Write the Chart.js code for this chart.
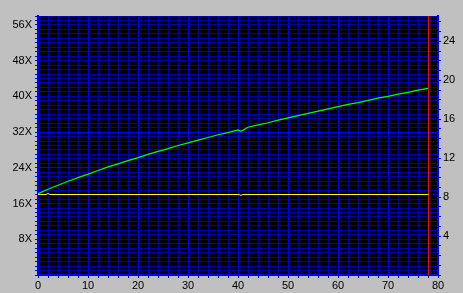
<!DOCTYPE html>
<html>
<head>
<meta charset="utf-8">
<script src="https://cdn.jsdelivr.net/npm/chart.js@4/dist/chart.umd.min.js"></script>
<style>
  html, body { margin: 0; padding: 0; background: #c0c0c0; }
  #wrap { width: 463px; height: 293px; }
</style>
</head>
<body>
<div id="wrap"><canvas id="speedChart" width="463" height="293"></canvas></div>
<script>
// transfer rate (X), per minute position
const minutes = [0, 2, 4, 6, 8, 10, 12, 14, 16, 18, 20, 22, 24, 26, 28, 30, 32, 34, 36, 38,
  40, 40.6, 42, 44, 46, 48, 50, 52, 54, 56, 58, 60, 62, 64, 66, 68, 70, 72, 74, 76, 78];
const speedX = [18.2, 19.2, 20.1, 21.0, 21.8, 22.6, 23.4, 24.2, 24.9, 25.6, 26.3, 27.0, 27.7, 28.3, 29.0, 29.6, 30.2, 30.8, 31.4, 31.9,
  32.5, 32.2, 33.1, 33.6, 34.1, 34.7, 35.2, 35.7, 36.2, 36.7, 37.2, 37.7, 38.2, 38.6, 39.1, 39.6, 40.0, 40.5, 40.9, 41.4, 41.8];

// rotation (right axis), yellow line
const rpmMinutes = [0, 1.6, 2, 2.4, 40.2, 40.6, 41, 78.1];
const rpmValues = [8.27, 8.27, 8.37, 8.27, 8.27, 8.17, 8.27, 8.27];

const endMinute = 78.1;

const xLabels = [0, 10, 20, 30, 40, 50, 60, 70, 80];
const leftLabels = [8, 16, 24, 32, 40, 48, 56];
const rightLabels = [4, 8, 12, 16, 20, 24];
const brightRows = [24, 32];

const BRIGHT = '#0000ff';
const DIM = '#0000a8';
const font = { family: 'Liberation Sans', size: 11 };

const plotBg = {
  id: 'plotBg',
  beforeDraw(chart) {
    const { ctx, chartArea: a } = chart;
    ctx.save();
    ctx.fillStyle = '#000000';
    ctx.fillRect(a.left, a.top, a.right - a.left, a.bottom - a.top);
    ctx.restore();
  }
};

const ctx = document.getElementById('speedChart').getContext('2d');

new Chart(ctx, {
  type: 'line',
  data: {
    datasets: [
      {
        label: 'speed',
        data: minutes.map((m, i) => ({ x: m, y: speedX[i] })),
        borderColor: '#00ff00',
        borderWidth: 1.2,
        pointRadius: 0,
        tension: 0,
        yAxisID: 'y'
      },
      {
        label: 'rpm',
        data: rpmMinutes.map((m, i) => ({ x: m, y: rpmValues[i] })),
        borderColor: '#ffff00',
        borderWidth: 1,
        pointRadius: 0,
        tension: 0,
        yAxisID: 'y2'
      },
      {
        label: 'end',
        data: [{ x: endMinute, y: 0 }, { x: endMinute, y: 58 }],
        borderColor: '#ff0000',
        borderWidth: 1,
        pointRadius: 0,
        yAxisID: 'y'
      }
    ]
  },
  options: {
    responsive: false,
    animation: false,
    devicePixelRatio: 1,
    layout: { padding: { top: 16, left: 0, right: 0, bottom: 0 } },
    plugins: {
      legend: { display: false },
      tooltip: { enabled: false }
    },
    scales: {
      x: {
        type: 'linear',
        min: 0,
        max: 80,
        afterFit: s => { s.height = 18; },
        border: { color: BRIGHT, width: 2 },
        grid: {
          color: c => (c.tick && c.tick.value % 10 === 0 ? BRIGHT : DIM),
          tickColor: BRIGHT,
          tickLength: 3
        },
        ticks: {
          stepSize: 2,
          maxRotation: 0,
          autoSkip: false,
          padding: 1,
          color: '#000',
          font,
          callback: v => (xLabels.includes(v) ? String(v) : '')
        }
      },
      y: {
        position: 'left',
        min: 0,
        max: 58,
        afterFit: s => { s.width = 38; },
        border: { color: BRIGHT, width: 2 },
        grid: {
          color: c => (c.tick && brightRows.includes(c.tick.value) ? BRIGHT : DIM),
          tickColor: BRIGHT,
          tickLength: 3
        },
        ticks: {
          stepSize: 1,
          autoSkip: false,
          padding: 3,
          color: '#000',
          font,
          callback: v => (leftLabels.includes(v) ? v + 'X' : '')
        }
      },
      y2: {
        position: 'right',
        min: 0,
        max: 26.6,
        afterFit: s => { s.width = 25; },
        border: { color: BRIGHT, width: 2 },
        grid: {
          drawOnChartArea: false,
          tickColor: BRIGHT,
          tickLength: 3
        },
        ticks: {
          stepSize: 1,
          includeBounds: false,
          autoSkip: false,
          padding: 2,
          color: '#000',
          font,
          callback: v => (rightLabels.includes(v) ? String(v) : '')
        }
      }
    }
  },
  plugins: [plotBg]
});
</script>
</body>
</html>
